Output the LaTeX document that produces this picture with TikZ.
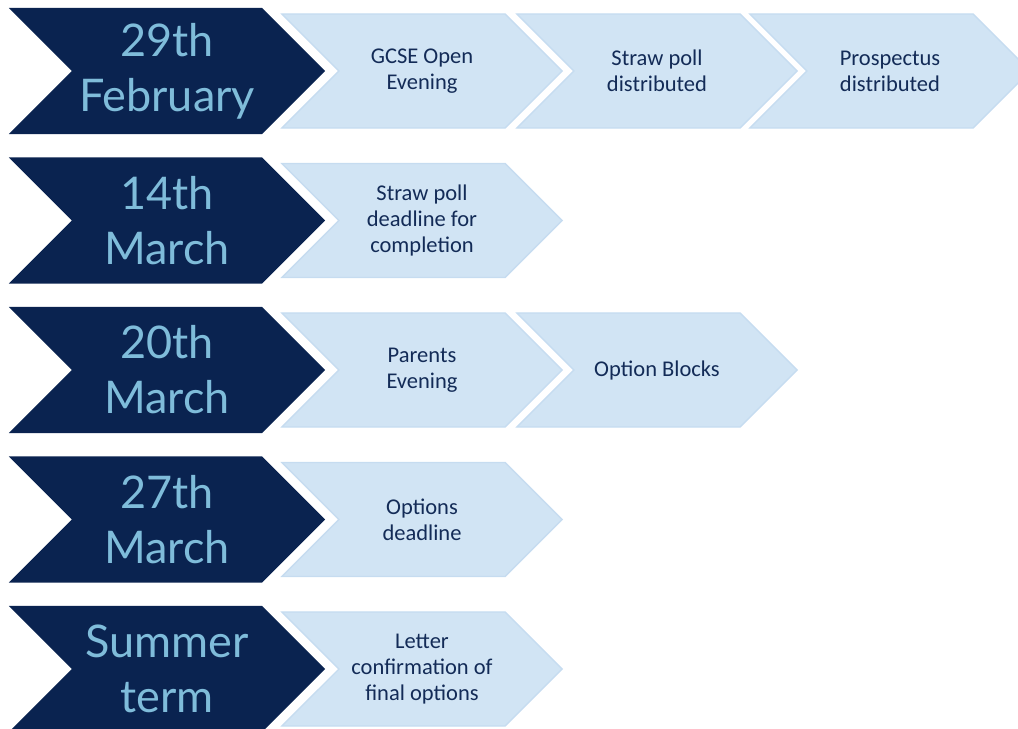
\documentclass[tikz,border=0pt]{standalone}
\usepackage{fontspec}
\setmainfont{Carlito}
\newfontfamily\datefont{Lato}
\usetikzlibrary{shapes.symbols}

\definecolor{navy}{HTML}{0A2350}
\definecolor{skytext}{HTML}{7FBCDA}
\definecolor{pale}{HTML}{D1E4F4}
\definecolor{paleedge}{HTML}{C6DCF0}
\definecolor{ink}{HTML}{132B57}

\begin{document}
\begin{tikzpicture}
[
	              x = 0.025cm,
	              y = -0.025cm,
	 chevron/.style = { signal, signal from=west, signal to=east,
	                    signal pointer angle=90, inner sep=0pt, align=center },
	    date/.style = { chevron, fill=navy, text=skytext,
	                    minimum width=7.9cm, minimum height=3.15cm,
	                    font=\datefont\fontsize{32}{39}\selectfont },
	    task/.style = { chevron, fill=pale, draw=paleedge, line width=1pt, text=ink,
	                    minimum width=7cm, minimum height=2.85cm,
	                    font=\fontsize{16}{18.5}\selectfont }
]
	\clip (0,0) rectangle (1018,729);

	% 29th February
	\node (10) at (167,71)   [date]   {29th\\February};
	\node (11) at (422,71)   [task]   {GCSE Open\\Evening};
	\node (12) at (657,71)   [task]   {Straw poll\\distributed};
	\node (13) at (890,71)   [task]   {Prospectus\\distributed};

	% 14th March
	\node (20) at (167,220.5)   [date]   {14th\\March};
	\node (21) at (422,220.5)   [task]   {Straw poll\\deadline for\\completion};

	% 20th March
	\node (30) at (167,370)   [date]   {20th\\March};
	\node (31) at (422,370)   [task]   {Parents\\Evening};
	\node (32) at (657,370)   [task]   {Option Blocks};

	% 27th March
	\node (40) at (167,519.5)   [date]   {27th\\March};
	\node (41) at (422,519.5)   [task]   {Options\\deadline};

	% Summer term
	\node (50) at (167,669)   [date]   {Summer\\term};
	\node (51) at (422,669)   [task]   {Letter\\confirmation of\\final options};

\end{tikzpicture}
\end{document}
